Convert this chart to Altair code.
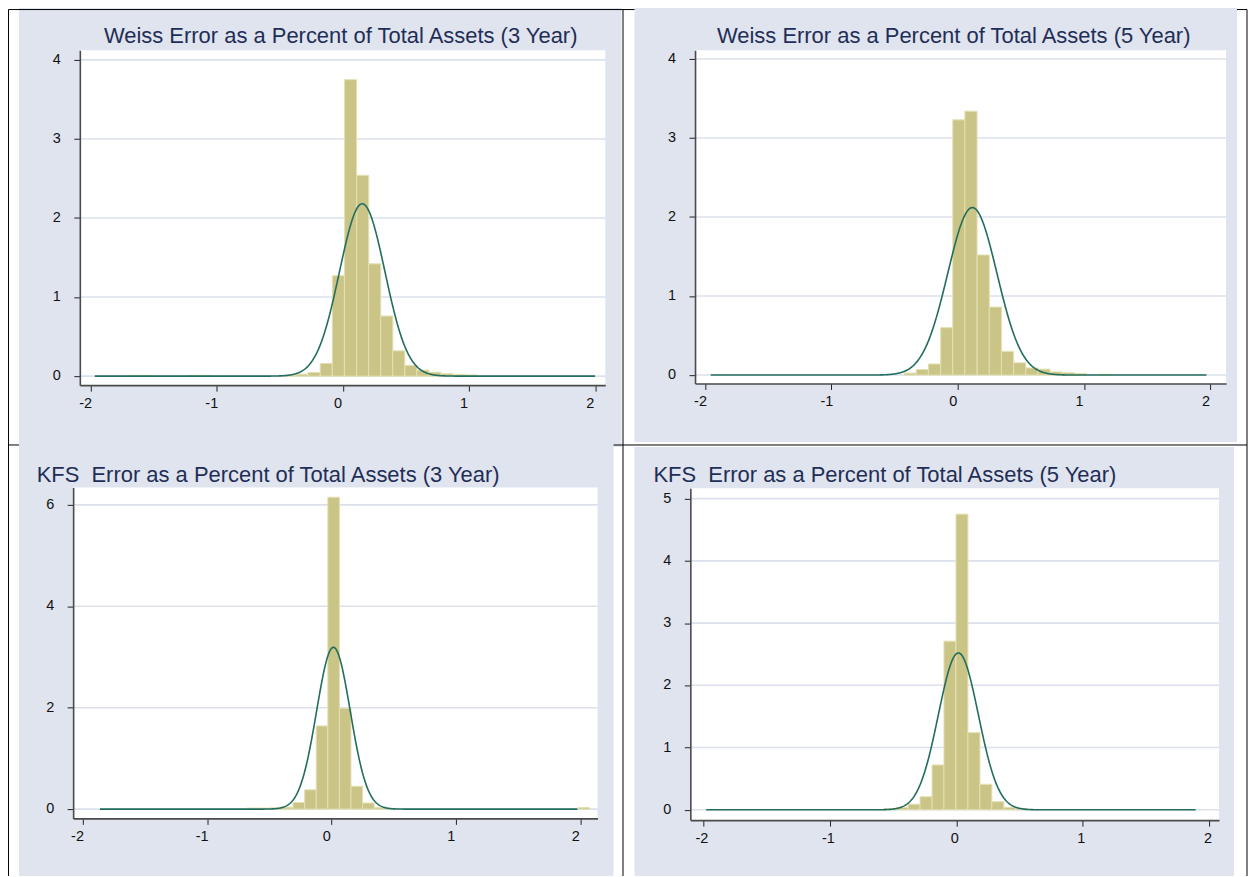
import altair as alt
import pandas as pd

# ---------------- colours / fonts ----------------
BG = "#dfe4ee"
GRID = "#dbe0ec"
BAR_FILL = "#cac486"
BAR_EDGE = "#e4e0b2"
CURVE = "#236d5e"
TITLE_COLOR = "#1f2e56"
FONT = "Liberation Sans"
TICK_FONT_SIZE = 14.5

# ---------------- text ----------------
TITLES = [
    "Weiss Error as a Percent of Total Assets (3 Year)",
    "Weiss Error as a Percent of Total Assets (5 Year)",
    "KFS \u00a0Error as a Percent of Total Assets (3 Year)",
    "KFS \u00a0Error as a Percent of Total Assets (5 Year)",
]
X_TICKS = [-2, -1, 0, 1, 2]
Y_TICKS_TL = [0, 1, 2, 3, 4]
Y_TICKS_TR = [0, 1, 2, 3, 4]
Y_TICKS_BL = [0, 2, 4, 6]
Y_TICKS_BR = [0, 1, 2, 3, 4, 5]

# ---------------- histogram bins (left edge, density) ----------------
BIN_WIDTH = [0.0955, 0.0963, 0.093, 0.0945]

TL_LEFT = [-1.708, -1.612, -1.230, -1.135, -0.466, -0.371, -0.276, -0.180, -0.084, 0.013,
           0.109, 0.204, 0.300, 0.395, 0.491, 0.586, 0.682, 0.777, 0.873, 0.968]
TL_HEIGHT = [0.01, 0.01, 0.01, 0.01, 0.012, 0.025, 0.047, 0.16, 1.27, 3.75,
             2.54, 1.42, 0.76, 0.32, 0.135, 0.076, 0.05, 0.03, 0.02, 0.015]

TR_LEFT = [-0.424, -0.328, -0.232, -0.135, -0.039, 0.057, 0.154, 0.250, 0.346, 0.443,
           0.539, 0.635, 0.731, 0.828, 0.924, 1.117]
TR_HEIGHT = [0.025, 0.07, 0.14, 0.60, 3.23, 3.34, 1.52, 0.86, 0.30, 0.155,
             0.09, 0.075, 0.04, 0.03, 0.02, 0.01]

BL_LEFT = [-0.682, -0.589, -0.496, -0.403, -0.310, -0.217, -0.124, -0.031, 0.062, 0.155,
           0.248, 0.341, 0.434, 1.976]
BL_HEIGHT = [0.02, 0.02, 0.025, 0.04, 0.13, 0.38, 1.64, 6.15, 1.99, 0.45,
             0.12, 0.03, 0.015, 0.03]

BR_LEFT = [-0.570, -0.476, -0.381, -0.287, -0.192, -0.098, -0.003, 0.092, 0.186, 0.281,
           0.375, 0.470]
BR_HEIGHT = [0.02, 0.04, 0.09, 0.21, 0.72, 2.71, 4.75, 1.24, 0.41, 0.13,
             0.04, 0.02]

# ---------------- normal overlay ----------------
CURVE_MEAN = [0.153, 0.116, 0.014, 0.016]
CURVE_SD = [0.18, 0.195, 0.135, 0.158]
CURVE_PEAK = [2.18, 2.12, 3.19, 2.52]
CURVE_FROM = [-1.966, -1.955, -1.86, -1.977]
CURVE_TO = [2.0, 1.97, 1.976, 1.895]

# ---------------- panel geometry (pixels inside each cell) ----------------
LAYOUT = [
    dict(w=604, h=441, l=61, r=587.7, t=43.3, b=379, xdom=[-2.085, 2.079], ydom=[-0.114, 4.122],
         tx=322.5, ty=36.2, talign="center", ldx=-5),
    dict(w=604, h=436, l=60.7, r=593, t=43.3, b=377.3, xdom=[-2.079, 2.124], ydom=[-0.106, 4.111],
         tx=320, ty=36.2, talign="center", ldx=-4.5),
    dict(w=596, h=430, l=54.3, r=580, t=40.7, b=372.3, xdom=[-2.075, 2.134], ydom=[-0.183, 6.34],
         tx=17.7, ty=35, talign="left", ldx=-5),
    dict(w=601, h=430, l=56, r=586, t=41.3, b=374, xdom=[-2.1025, 2.0765], ydom=[-0.165, 5.167],
         tx=19, ty=35, talign="left", ldx=-1.5),
]

# table border lines, relative to the top-left cell
V_LINES = [(-10.5, 2.5, 871), (605.5, 2.5, 871), (1231, 2.5, 871)]
H_LINES = [(2.5, -10.5, 1231), (439, -10.5, 0), (439, 596, 1231)]


def panel(i, left, heights, yticks, borders=False):
    L = LAYOUT[i]
    xs = alt.Scale(domain=L["xdom"], range=[L["l"], L["r"]], nice=False, zero=False)
    ys = alt.Scale(domain=L["ydom"], range=[L["b"], L["t"]], nice=False, zero=False)
    common = dict(grid=False, title="", labels=False, tickSize=6, tickColor="#222222",
                  tickWidth=1, domainColor="#4a4a4a", domainWidth=1.6, zindex=1)
    xaxis = alt.Axis(values=X_TICKS, orient="bottom", offset=-(L["h"] - L["b"]), **common)
    yaxis = alt.Axis(values=yticks, orient="left", offset=-L["l"], **common)

    one = alt.Data(values=[{}])
    layers = []
    if borders:
        for (x, y1, y2) in V_LINES:
            layers.append(alt.Chart(one).mark_rule(color="black", strokeWidth=1).encode(
                x=alt.value(x), y=alt.value(y1), y2=alt.value(y2)))
        for (y, x1, x2) in H_LINES:
            layers.append(alt.Chart(one).mark_rule(color="black", strokeWidth=1).encode(
                y=alt.value(y), x=alt.value(x1), x2=alt.value(x2)))

    layers.append(alt.Chart(one).mark_rect(fill="white").encode(
        x=alt.value(L["l"]), x2=alt.value(L["r"]), y=alt.value(L["t"]), y2=alt.value(L["b"])))

    layers.append(alt.Chart(pd.DataFrame({"v": yticks})).mark_rule(
        color=GRID, strokeWidth=1.6).encode(
        y=alt.Y("v:Q", scale=ys, axis=yaxis), x=alt.value(L["l"]), x2=alt.value(L["r"])))

    layers.append(alt.Chart(pd.DataFrame({"x0": left, "h": heights})).transform_calculate(
        x1=f"datum.x0 + {BIN_WIDTH[i]}").mark_rect(
        fill=BAR_FILL, stroke=BAR_EDGE, strokeWidth=1).encode(
        x=alt.X("x0:Q", scale=xs, axis=xaxis), x2="x1:Q",
        y=alt.Y("h:Q", scale=ys, axis=yaxis), y2=alt.datum(0)))

    expr = (f"{CURVE_PEAK[i]} * exp(-0.5 * pow((datum.x - {CURVE_MEAN[i]}) / {CURVE_SD[i]}, 2))")
    layers.append(alt.Chart(alt.sequence(CURVE_FROM[i], CURVE_TO[i], 0.004, as_="x"))
                  .transform_calculate(y=expr)
                  .mark_line(color=CURVE, strokeWidth=1.6)
                  .encode(x=alt.X("x:Q", scale=xs, axis=xaxis),
                          y=alt.Y("y:Q", scale=ys, axis=yaxis)))

    # tick labels
    xl = pd.DataFrame({"v": X_TICKS, "s": [str(v) for v in X_TICKS]})
    layers.append(alt.Chart(xl).mark_text(
        align="center", baseline="alphabetic", font=FONT, fontSize=TICK_FONT_SIZE,
        color="#111111", dx=L["ldx"]).encode(
        x=alt.X("v:Q", scale=xs, axis=xaxis), y=alt.value(L["b"] + 23), text="s:N"))
    yl = pd.DataFrame({"v": yticks, "s": [str(v) for v in yticks]})
    layers.append(alt.Chart(yl).mark_text(
        align="right", baseline="middle", font=FONT, fontSize=TICK_FONT_SIZE,
        color="#111111").encode(
        y=alt.Y("v:Q", scale=ys, axis=yaxis), x=alt.value(L["l"] - 19), text="s:N"))

    layers.append(alt.Chart(alt.Data(values=[{"t": TITLES[i]}])).mark_text(
        align=L["talign"], baseline="alphabetic", font=FONT, fontSize=22,
        color=TITLE_COLOR).encode(text="t:N", x=alt.value(L["tx"]), y=alt.value(L["ty"])))

    return alt.layer(*layers).properties(width=L["w"], height=L["h"])


tl = panel(0, TL_LEFT, TL_HEIGHT, Y_TICKS_TL, borders=True)
tr = panel(1, TR_LEFT, TR_HEIGHT, Y_TICKS_TR)
bl = panel(2, BL_LEFT, BL_HEIGHT, Y_TICKS_BL)
br = panel(3, BR_LEFT, BR_HEIGHT, Y_TICKS_BR)

chart = alt.concat(tl, tr, bl, br, columns=2, spacing={"row": 0, "column": 13},
                   bounds="flush").properties(
    background="white",
    padding={"left": 0, "top": -2, "right": 0, "bottom": 0},
).configure_view(fill=BG, strokeWidth=0)

chart.save("out.html", embed_options={"renderer": "svg", "actions": False})
